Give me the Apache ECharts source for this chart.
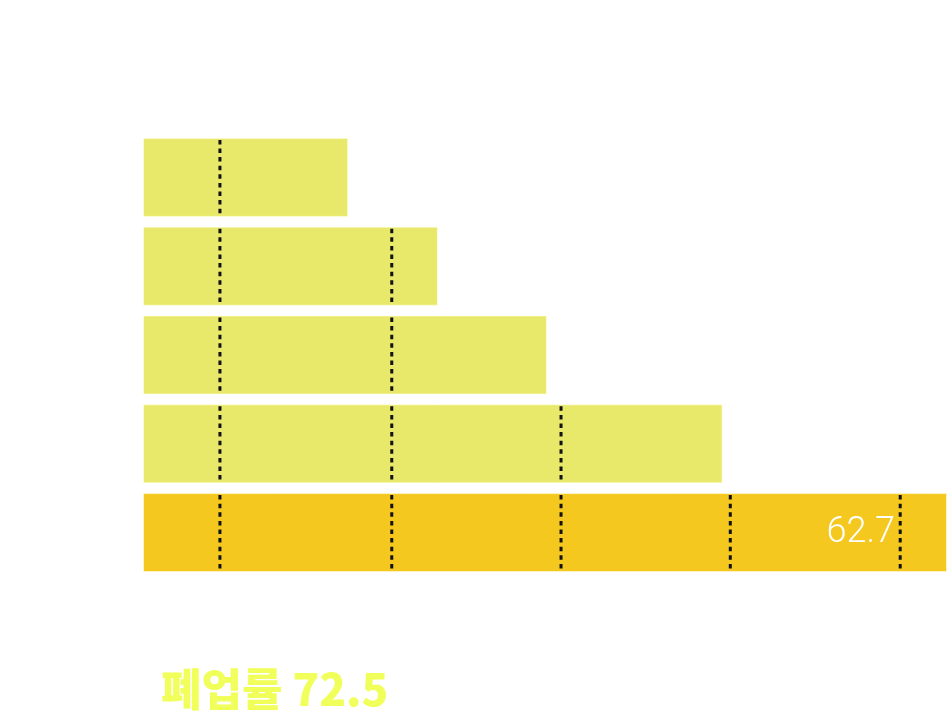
<!DOCTYPE html>
<html>
<head>
<meta charset="utf-8">
<script src="https://cdn.jsdelivr.net/npm/echarts@6/dist/echarts.min.js"></script>
<style>
html,body{margin:0;padding:0;background:#fff;}
#chart{width:950px;height:716px;}
</style>
</head>
<body>
<div id="chart"></div>
<script>
// Data
const categories = ['1', '2', '3', '4', '5'];
const values = [16.0, 23.0, 31.5, 45.2, 62.7];
const dividers = [6.0, 19.4, 32.6, 45.8, 59.05];
const labelText = '62.7';
const annotation = '폐업률 72.5';

const chart = echarts.init(document.getElementById('chart'));

const barData = values.map((v, i) => ({
  value: v,
  itemStyle: { color: i === values.length - 1 ? '#F4C81F' : '#E8E96A' },
  label: i === values.length - 1 ? {
    show: true, position: 'insideRight', distance: 52,
    formatter: labelText, color: '#ffffff', fontSize: 36,
    fontFamily: 'Roboto', fontWeight: 300
  } : { show: false }
}));

const option = {
  animation: false,
  grid: { left: 143, right: 3, top: 133, bottom: 139 },
  xAxis: { type: 'value', min: 0, max: 62.7, show: false },
  yAxis: { type: 'category', data: categories, inverse: true, show: false },
  series: [
    {
      type: 'bar', data: barData, barCategoryGap: '11%',
      itemStyle: { borderColor: 'rgba(255,255,230,0.6)', borderWidth: 1 }
    },
    {
      type: 'custom',
      data: values.map((v, i) => [v, i]),
      encode: { x: 0, y: 1 },
      z: 5,
      renderItem: function (params, api) {
        const v = api.value(0);
        const idx = api.value(1);
        const band = api.size([0, 1])[1];
        const h = band * 0.89;
        const children = [];
        dividers.forEach(d => {
          if (d < v) {
            const p = api.coord([d, idx]);
            children.push({
              type: 'line',
              shape: { x1: p[0], y1: p[1] - h / 2 + 2, x2: p[0], y2: p[1] + h / 2 - 3 },
              style: { stroke: '#111111', lineWidth: 3, lineDash: [4.5, 4.1] }
            });
          }
        });
        return { type: 'group', children: children };
      }
    }
  ],
  graphic: [
    {
      type: 'text', left: 161, top: 667,
      style: {
        text: annotation, fill: '#F0FF5A', fontSize: 44,
        fontFamily: 'Noto Sans CJK KR', fontWeight: 900
      }
    }
  ]
};
chart.setOption(option);
</script>
</body>
</html>
